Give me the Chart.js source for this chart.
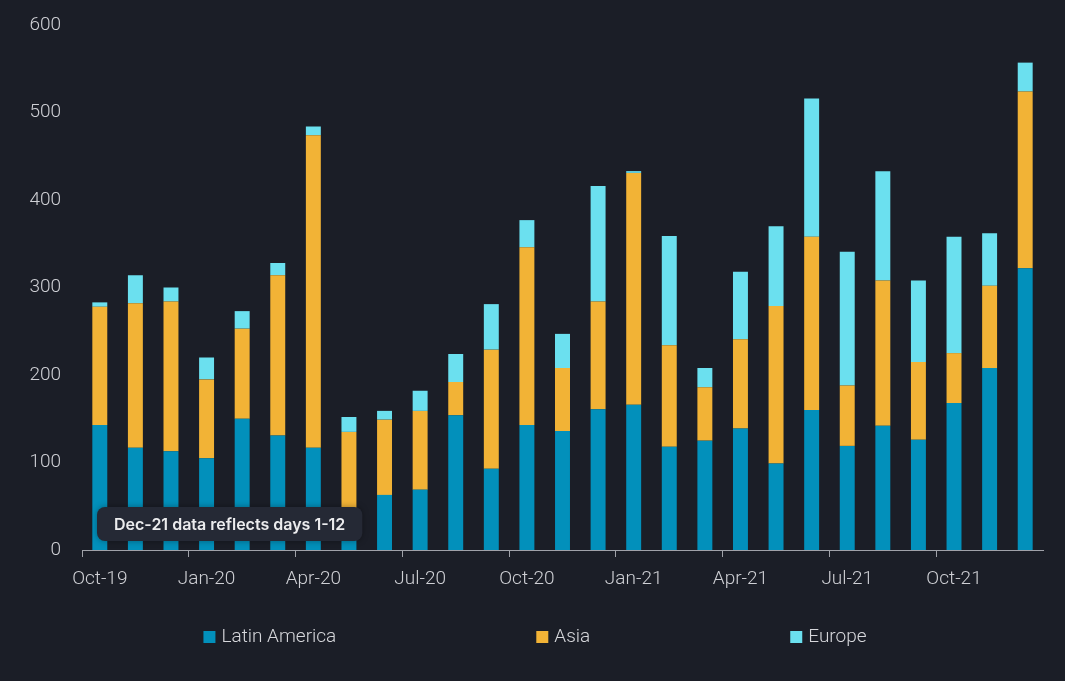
<!DOCTYPE html>
<html>
<head>
<meta charset="utf-8">
<script src="https://cdn.jsdelivr.net/npm/chart.js@4/dist/chart.umd.min.js"></script>
<style>
  html, body { margin: 0; padding: 0; background: #1b1e27; }
  #wrap { width: 1065px; height: 681px; position: relative; }
</style>
</head>
<body>
<div id="wrap"><canvas id="myChart"></canvas></div>
<script>
const months = ['Oct-19', 'Nov-19', 'Dec-19', 'Jan-20', 'Feb-20', 'Mar-20', 'Apr-20', 'May-20', 'Jun-20',
    'Jul-20', 'Aug-20', 'Sep-20', 'Oct-20', 'Nov-20', 'Dec-20', 'Jan-21', 'Feb-21', 'Mar-21',
    'Apr-21', 'May-21', 'Jun-21', 'Jul-21', 'Aug-21', 'Sep-21', 'Oct-21', 'Nov-21', 'Dec-21'];
const latinAmerica = [143, 117, 113, 105, 150, 131, 117, 45, 63, 69, 154, 93, 143, 136, 161, 166, 118, 125,
    139, 99, 160, 119, 142, 126, 168, 208, 322];
const asia = [135, 165, 171, 90, 103, 183, 357, 90, 86, 90, 38, 136, 203, 72, 123, 265, 116, 61,
    102, 180, 198, 69, 166, 89, 57, 94, 202];
const europe = [5, 32, 16, 25, 20, 14, 10, 17, 10, 23, 32, 52, 31, 39, 132, 2, 125, 22,
    77, 91, 158, 153, 125, 93, 133, 60, 33];
const yTicks = [0, 100, 200, 300, 400, 500, 600];
const note = 'Dec-21 data reflects days 1-12';

const textColor = '#cfd0d5';
const tickFont = { family: 'Roboto', size: 19, weight: 300 };

// note box over the bottom-left bars
const notePlugin = {
    id: 'note',
    afterDatasetsDraw(chart) {
        const c = chart.ctx;
        c.save();
        c.font = '600 16px Inter';
        const w = c.measureText(note).width + 34;
        const x = 97, y = 507, h = 34;
        c.shadowColor = 'rgba(0,0,0,0.35)';
        c.shadowBlur = 6;
        c.fillStyle = '#252935';
        c.beginPath();
        c.roundRect(x, y, w, h, 8);
        c.fill();
        c.shadowBlur = 0;
        c.fillStyle = '#ececee';
        c.textBaseline = 'middle';
        c.fillText(note, x + 17, y + h / 2 + 1);
        c.restore();
    }
};

// legend spread across the bottom
const legendPlugin = {
    id: 'spreadLegend',
    afterDraw(chart) {
        const c = chart.ctx;
        c.save();
        c.font = '300 19px Roboto';
        const gap = 200, box = 12, sp = 6;
        const items = chart.data.datasets.map(d => ({
            label: d.label, color: d.backgroundColor,
            w: box + sp + c.measureText(d.label).width
        }));
        const total = items.reduce((s, it) => s + it.w, 0) + gap * (items.length - 1);
        let x = 535 - total / 2;
        const y = 637;
        items.forEach(it => {
            c.fillStyle = it.color;
            c.fillRect(x, y - 6, box, box);
            c.fillStyle = '#d6d7db';
            c.textBaseline = 'middle';
            c.fillText(it.label, x + box + sp, y);
            x += it.w + gap;
        });
        c.restore();
    }
};

new Chart(document.getElementById('myChart'), {
    type: 'bar',
    data: {
        labels: months,
        datasets: [
            { label: 'Latin America', data: latinAmerica, backgroundColor: '#0290bb' },
            { label: 'Asia', data: asia, backgroundColor: '#f2b336' },
            { label: 'Europe', data: europe, backgroundColor: '#6be0ef' }
        ]
    },
    options: {
        responsive: true,
        maintainAspectRatio: false,
        animation: false,
        datasets: { bar: { barPercentage: 0.42, categoryPercentage: 1 } },
        layout: { padding: { top: 25, right: 22, left: 0, bottom: 0 } },
        plugins: {
            legend: { display: false },
            tooltip: { enabled: false }
        },
        scales: {
            x: {
                stacked: true,
                afterFit: s => { s.height = 131; s.paddingLeft = 0; s.paddingRight = 0; },
                border: { display: true, color: '#a0a2a9', width: 1 },
                grid: {
                    offset: true,
                    drawOnChartArea: false,
                    tickLength: 7,
                    color: ctx => (ctx.index % 3 === 0 ? '#a0a2a9' : 'rgba(0,0,0,0)')
                },
                ticks: {
                    autoSkip: false,
                    maxRotation: 0,
                    padding: 11,
                    color: textColor,
                    font: tickFont,
                    callback: (v, i) => (i % 3 === 0 ? months[i] : '')
                }
            },
            y: {
                stacked: true,
                min: 0,
                max: 600,
                afterFit: s => { s.width = 82; s.paddingTop = 0; s.paddingBottom = 0; },
                afterBuildTicks: s => { s.ticks = yTicks.map(v => ({ value: v })); },
                border: { display: false },
                grid: { display: false },
                ticks: { padding: 13, color: textColor, font: tickFont }
            }
        }
    },
    plugins: [notePlugin, legendPlugin]
});
</script>
</body>
</html>
